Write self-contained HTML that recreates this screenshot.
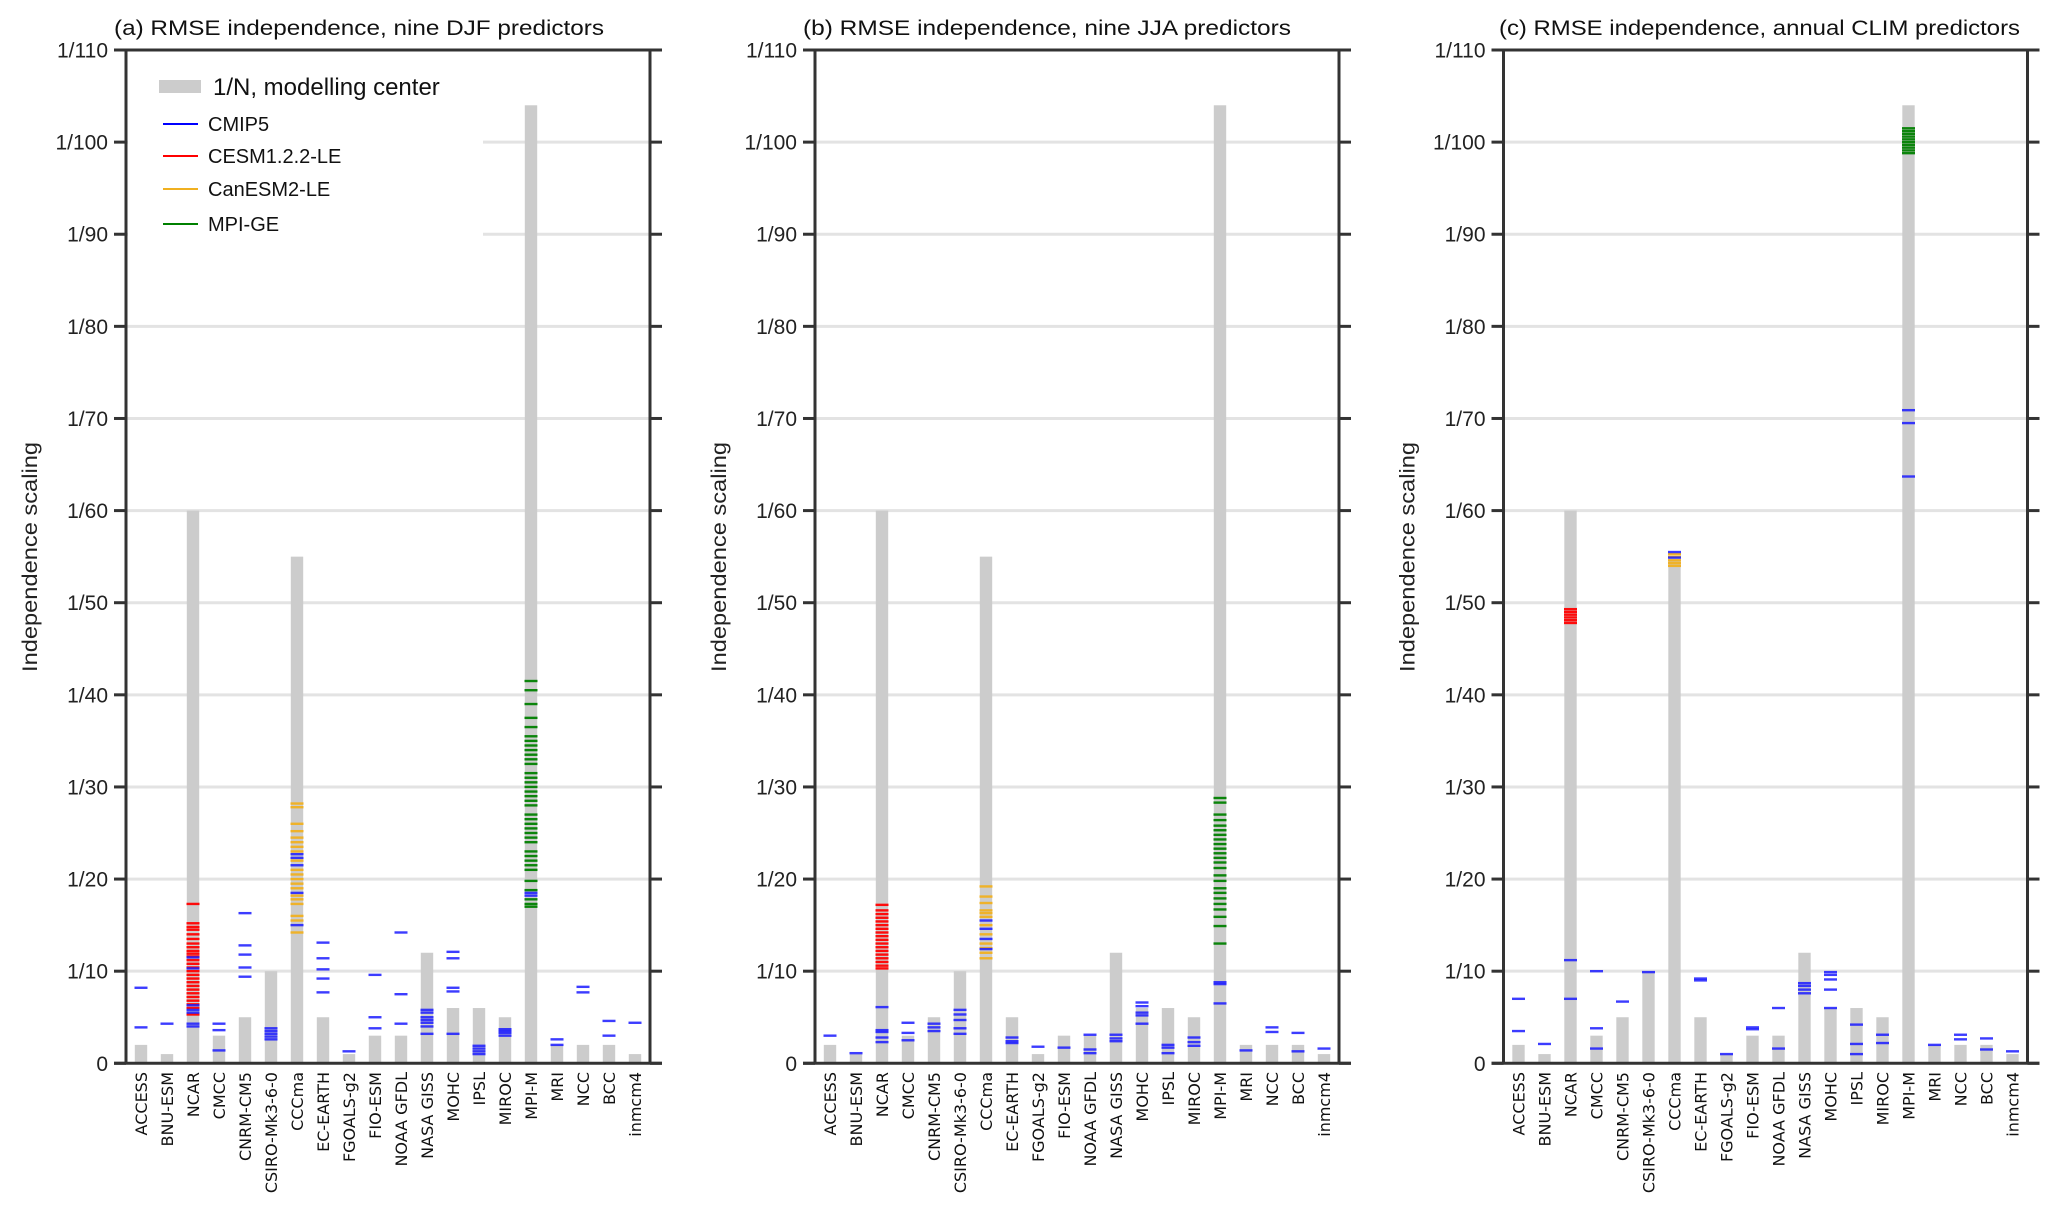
<!DOCTYPE html>
<html><head><meta charset="utf-8"><title>RMSE independence</title>
<style>html,body{margin:0;padding:0;background:#fff}svg{display:block}</style>
</head><body>
<svg id="chart" width="2067" height="1219" viewBox="0 0 2067 1219" xmlns="http://www.w3.org/2000/svg"></svg>
<script>
const centers = ["ACCESS","BNU-ESM","NCAR","CMCC","CNRM-CM5","CSIRO-Mk3-6-0","CCCma","EC-EARTH","FGOALS-g2","FIO-ESM","NOAA GFDL","NASA GISS","MOHC","IPSL","MIROC","MPI-M","MRI","NCC","BCC","inmcm4"];
const barN = [2,1,60,3,5,10,55,5,1,3,3,12,6,6,5,104,2,2,2,1];
const yTicks = [0,10,20,30,40,50,60,70,80,90,100,110];
const yTickLabels = ["0","1/10","1/20","1/30","1/40","1/50","1/60","1/70","1/80","1/90","1/100","1/110"];
const titles = ["(a) RMSE independence, nine DJF predictors","(b) RMSE independence, nine JJA predictors","(c) RMSE independence, annual CLIM predictors"];

// Panel (a) DJF
const a_cmip5 = [[8.2,3.9],[4.3],[4.0,4.3,5.5,5.8,6.3,10.3,11.5],[4.3,3.6,1.4],[16.3,12.8,11.8,10.4,9.4],[3.8,3.5,3.2,2.9,2.6],[22.7,22.3,21.5,18.5,15.0],[13.1,11.4,10.2,9.2,7.7],[1.3],[9.6,5.0,3.8],[14.2,7.5,4.3],[5.8,5.5,5.0,4.7,4.4,4.0,3.2],[12.1,11.4,8.2,7.8,3.2],[1.9,1.6,1.3,1.0],[3.7,3.5,3.3,3.0],[18.2,18.5],[2.6,2.0],[8.3,7.7],[4.6,3.0],[4.4]];
const a_cesm = [17.3,15.2,14.8,14.5,14.0,13.5,13.0,12.6,12.2,11.9,11.6,11.2,10.8,10.4,10.0,9.6,9.2,8.8,8.4,8.0,7.6,7.2,6.8,6.4,6.0,5.3];
const a_canesm = [28.2,27.8,26.0,25.2,24.5,24.0,23.5,23.0,22.0,21.0,20.5,20.0,19.5,19.0,18.2,17.8,17.3,16.0,15.5,14.2];
const a_mpige = [41.5,40.5,39.0,37.5,36.5,35.5,35.0,34.5,34.0,33.5,33.0,32.5,31.5,31.0,30.5,30.0,29.5,29.0,28.5,28.0,27.0,26.5,26.0,25.5,25.0,24.5,24.0,23.0,22.5,22.0,21.5,21.0,19.8,18.8,17.8,17.3,17.0];

// Panel (b) JJA
const b_cmip5 = [[3.0],[1.1],[6.1,3.6,3.4,2.8,2.3],[4.4,3.3,2.5],[4.3,3.9,3.5],[5.8,5.3,4.7,3.8,3.2],[15.5,14.6,13.5,12.4],[2.8,2.4,2.2],[1.8],[1.7],[3.1,1.5,1.1],[3.1,2.7,2.4],[6.6,6.2,5.5,5.2,4.3],[2.0,1.7,1.1],[2.8,2.3,1.9],[8.8,8.6,6.5],[1.4],[3.9,3.4],[3.3,1.3],[1.6]];
const b_cesm = [17.2,16.6,16.2,15.8,15.4,15.0,14.6,14.2,13.8,13.4,13.0,12.6,12.2,11.8,11.4,11.0,10.6,10.3];
const b_canesm = [19.2,18.1,17.4,16.6,16.3,15.9,15.0,14.0,13.0,12.5,12.0,11.4];
const b_mpige = [28.8,28.3,27.0,26.4,25.8,25.3,24.8,24.3,23.8,23.3,22.8,22.3,21.8,21.2,20.4,19.8,19.0,18.5,17.9,17.3,16.7,15.9,14.9,13.0];

// Panel (c) annual CLIM
const c_cmip5 = [[7.0,3.5],[2.1],[11.2,7.0],[10.0,3.8,1.6],[6.7],[9.9],[55.5,54.9],[9.2,9.0],[1.0],[3.9,3.7],[6.0,1.6],[8.7,8.4,8.0,7.6],[9.9,9.6,9.1,8.0,6.0],[4.2,2.1,1.0],[3.1,2.2],[70.9,69.5,63.7],[2.0],[3.1,2.6],[2.7,1.5],[1.3]];
const c_cesm = [49.3,49.0,48.7,48.4,48.1,47.8];
const c_canesm = [55.3,55.0,54.6,54.3,54.0];
const c_mpige = [101.5,101.2,100.9,100.6,100.3,100.0,99.7,99.4,99.1,98.8];

const panels = [
  {left:126, titleX:114, titleLen:490, cmip5:a_cmip5, cesm:a_cesm, canesm:a_canesm, mpige:a_mpige, legend:true},
  {left:815, titleX:803, titleLen:488, cmip5:b_cmip5, cesm:b_cesm, canesm:b_canesm, mpige:b_mpige, legend:false},
  {left:1503.5, titleX:1499, titleLen:521, cmip5:c_cmip5, cesm:c_cesm, canesm:c_canesm, mpige:c_mpige, legend:false}
];

const NS = "http://www.w3.org/2000/svg";
const svg = document.getElementById("chart");
const W = 524, TOP = 50, BOT = 1063.3, YMAX = 110;
function yScale(v){ return BOT - v*(BOT-TOP)/YMAX; }
function xScale(p,i){ return p.left + 15 + 26*i; }
function mk(tag, attrs, parent){ const e=document.createElementNS(NS,tag); for(const k in attrs) e.setAttribute(k,attrs[k]); (parent||svg).appendChild(e); return e; }

panels.forEach((p, pi) => {
  const g = mk("g", {});
  
  
  yTicks.forEach((t, ti) => {
    if (t===0 || t===110) return;
    const gl = mk("line", {x1:p.left, x2:p.left+W, y1:yScale(t), y2:yScale(t), stroke:"#e3e3e3", "stroke-width":3}, g);
    
    
  });
  if (p.legend) {
    mk("rect", {x:p.left+2, y:TOP+3, width:355, height:190, fill:"#fff"}, g);
  }
  barN.forEach((n, i) => {
    const cx = xScale(p,i);
    const r = mk("rect", {x:cx-6.2, y:yScale(n), width:12.4, height:yScale(0)-yScale(n), fill:"#cccccc"}, g);
    
    
  });
  function ticks(vals, idx, color, name, op){
    const cx = xScale(p, idx);
    vals.forEach(v => {
      const t = mk("rect", {x:cx-6.5, y:yScale(v)-1.2, width:13, height:2.4, fill:color, opacity:op}, g);
      
      
    });
  }
  ticks(p.cesm, 2, "#ff0000", "cesm-member-tick", 0.95);
  ticks(p.canesm, 6, "#f0b020", "canesm-member-tick", 0.95);
  ticks(p.mpige, 15, "#008000", "mpige-member-tick", 0.95);
  p.cmip5.forEach((vals, i) => ticks(vals, i, "#1a1aff", "cmip5-member-tick", 0.85));
  const ax = mk("g", {stroke:"#333", "stroke-width":3, fill:"none"}, g);
  
  
  mk("line", {x1:p.left, x2:p.left, y1:TOP, y2:BOT}, ax);
  mk("line", {x1:p.left+W, x2:p.left+W, y1:TOP, y2:BOT}, ax);
  mk("line", {x1:p.left-12, x2:p.left+W+12, y1:TOP, y2:TOP}, ax);
  mk("line", {x1:p.left-12, x2:p.left+W+12, y1:BOT, y2:BOT}, ax);
  yTicks.forEach((t, ti) => {
    const y = yScale(t);
    mk("line", {x1:p.left-12, x2:p.left, y1:y, y2:y}, ax);
    mk("line", {x1:p.left+W, x2:p.left+W+12, y1:y, y2:y}, ax);
    const lb = mk("text", {x:p.left-18, y:y+7.5, "text-anchor":"end", "font-family":"Liberation Sans, DejaVu Sans, sans-serif", "font-size":21, fill:"#222"}, g);
    lb.textContent = yTickLabels[ti];
    
    
  });
  centers.forEach((c, i) => {
    const cx = xScale(p,i);
    const tx = mk("text", {x:0, y:0, transform:`translate(${cx+6},1072) rotate(-90)`, "text-anchor":"end", "font-family":"DejaVu Sans, Liberation Sans, sans-serif", "font-size":16, fill:"#111"}, g);
    tx.textContent = c;
    
    
  });
  const ti = mk("text", {x:p.titleX, y:35, "font-family":"Liberation Sans, sans-serif", "font-size":21, fill:"#111", textLength:p.titleLen, lengthAdjust:"spacingAndGlyphs"}, g);
  ti.textContent = titles[pi];
  
  
  const yt = mk("text", {x:0, y:0, transform:`translate(${p.left-89},557) rotate(-90)`, "text-anchor":"middle", "font-family":"Liberation Sans, sans-serif", "font-size":21, fill:"#222", textLength:230, lengthAdjust:"spacingAndGlyphs"}, g);
  yt.textContent = "Independence scaling";
  
  
  if (p.legend) {
    const lg = mk("g", {}, g);
    
    
    const patch = mk("rect", {x:159, y:80, width:42, height:13, fill:"#cccccc"}, lg);
    
    
    const t0 = mk("text", {x:213, y:95, "font-family":"Liberation Sans, sans-serif", "font-size":24, fill:"#111"}, lg);
    t0.textContent = "1/N, modelling center";
    const items = [["CMIP5","#0000ff",124],["CESM1.2.2-LE","#ff0000",156],["CanESM2-LE","#f0b020",189],["MPI-GE","#008000",224]];
    items.forEach(it => {
      const ln = mk("line", {x1:163, x2:198, y1:it[2], y2:it[2], stroke:it[1], "stroke-width":2}, lg);
      
      
      const tt = mk("text", {x:208, y:it[2]+7, "font-family":"Liberation Sans, sans-serif", "font-size":20, fill:"#111"}, lg);
      tt.textContent = it[0];
    });
  }
});
</script>
</body></html>
